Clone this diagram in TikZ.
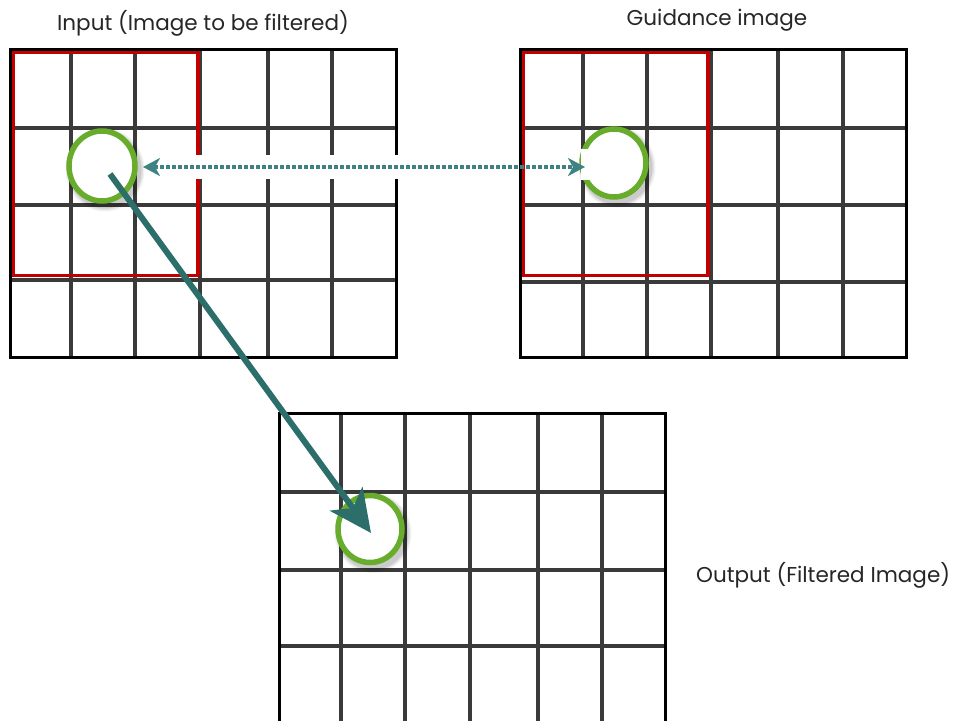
\documentclass[tikz,border=0pt]{standalone}
\usepackage{fontspec}
\setmainfont{Poppins}
\usetikzlibrary{arrows.meta,shapes.geometric}
\definecolor{gridgray}{HTML}{3A3A3A}
\definecolor{redbox}{HTML}{C00000}
\definecolor{ringgreen}{HTML}{68AC2C}
\definecolor{tealdot}{HTML}{3F8283}
\definecolor{tealarrow}{HTML}{2B6E6A}
\definecolor{labeltext}{HTML}{262626}
\tikzset{
  innerline/.style={gridgray, line width=4pt},
  outerline/.style={black, line width=3pt},
  redline/.style={redbox, line width=3.5pt},
  ring/.style={ellipse, draw=ringgreen, line width=5.5pt, fill=white, inner sep=0pt},
  lbl/.style={font=\fontsize{21.5}{24}\selectfont, text=labeltext, inner sep=0pt},
}
\begin{document}
\begin{tikzpicture}[x=1pt,y=-1pt]
\useasboundingbox (0,0) rectangle (958,720);
\clip (0,0) rectangle (958,720);
\fill[white] (0,0) rectangle (958,720);

% ---- grid 1 (input) ----
\foreach \x in {71,135,200,268,332} \draw[innerline] (\x,49) -- (\x,357);
\foreach \y in {128,205,280} \draw[innerline] (10,\y) -- (396,\y);
\draw[outerline] (10,49) rectangle (396,357);
\draw[redline] (13.5,52.5) rectangle (198,275.5);

% ---- grid 2 (guidance) ----
\foreach \x in {583,647,711,778,843} \draw[innerline] (\x,49) -- (\x,357);
\foreach \y in {128,205,282} \draw[innerline] (520,\y) -- (906,\y);
\draw[outerline] (520,49) rectangle (906,357);
\draw[redline] (523.5,52.5) rectangle (708,275.5);

% ---- grid 3 (output) ----
\foreach \x in {341,405,470,538,602} \draw[innerline] (\x,413) -- (\x,740);
\foreach \y in {492,570,646} \draw[innerline] (279,\y) -- (665,\y);
\draw[outerline] (279,740) -- (279,413) -- (665,413) -- (665,740);

% ---- shadows of rings ----
\foreach \cx/\cy/\rx/\ry in {102/166/33/35, 614/163/32/34, 370/529/32/33.5}{
  \foreach \w/\o in {13/0.05, 10/0.07, 7/0.09}
    \draw[black, opacity=\o, line width=\w pt] (\cx+3,\cy+4) ellipse [x radius=\rx, y radius=\ry];
}

% ---- rings ----
\node[ring, minimum width=66pt, minimum height=70pt] (c1) at (102,166) {};
\node[ring, minimum width=64pt, minimum height=68pt] (c2) at (614,163) {};
\node[ring, minimum width=64pt, minimum height=67pt] (c3) at (370,529) {};
\fill[white] (581,149) rectangle (626,180);

% ---- dotted double arrow ----
\coordinate (dl) at (143,167);
\coordinate (dr) at (585,167);
\draw[white, line width=24pt] (150,167) -- (515,167);
\draw[tealdot, line width=4pt, dash pattern=on 3.5pt off 2.5pt,
      {Stealth[length=17pt,width=18pt,inset=5pt]}-{Stealth[length=17pt,width=18pt,inset=5pt]}]
      (dl) -- (dr);

% ---- solid arrow ----
\coordinate (sa) at (110,174);
\coordinate (sb) at (371,533);
\draw[tealarrow, line width=6pt, -{Stealth[length=42pt,width=40pt,inset=11pt]}] (sa) -- (sb);

% ---- labels ----
\node[lbl] (tin) at (203,23) {Input (Image to be filtered)};
\node[lbl] (tgd) at (717,20) {Guidance image};
\node[lbl, anchor=west] (tout) at (696,575) {Output (Filtered Image)};
\end{tikzpicture}
\end{document}
